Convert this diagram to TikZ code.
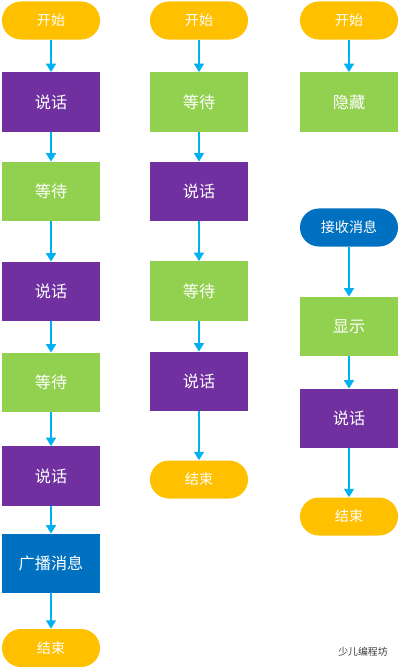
\documentclass[tikz,border=0pt]{standalone}
\usepackage{fontspec}
\usepackage{tikz}
\usetikzlibrary{arrows.meta,positioning}
\newfontfamily\cjk{Noto Sans CJK SC}
\definecolor{flowyellow}{HTML}{FFC000}
\definecolor{flowpurple}{HTML}{7030A0}
\definecolor{flowgreen}{HTML}{92D050}
\definecolor{flowblue}{HTML}{0070C0}
\definecolor{flowcyan}{HTML}{00B0F0}
\definecolor{markgray}{HTML}{3A3A3A}
\tikzset{
  terminal/.style={fill=flowyellow, rounded corners=0.475cm, minimum width=2.45cm, minimum height=0.95cm, inner sep=0pt, text=white, font=\cjk\fontsize{10}{12}\selectfont},
  bluestart/.style={terminal, fill=flowblue},
  saybox/.style={fill=flowpurple, minimum width=2.45cm, minimum height=1.48cm, inner sep=0pt, text=white, font=\cjk\fontsize{11.5}{13}\selectfont},
  waitbox/.style={saybox, fill=flowgreen},
  sendbox/.style={saybox, fill=flowblue},
  flowarrow/.style={flowcyan, line width=1.3pt, -{Triangle[length=6pt, width=7pt]}}
}
\begin{document}
\begin{tikzpicture}[x=0.025cm, y=-0.025cm]
  \useasboundingbox (0,0) rectangle (400,670);
  \node[terminal] (a0) at (51,20.5) {开始};
  \node[saybox] (a1) at (51,102) {说话};
  \node[waitbox] (a2) at (51,191.5) {等待};
  \node[saybox] (a3) at (51,291.5) {说话};
  \node[waitbox] (a4) at (51,382.5) {等待};
  \node[saybox] (a5) at (51,476) {说话};
  \node[sendbox] (a6) at (51,563.5) {广播消息};
  \node[terminal] (a7) at (51,648) {结束};
  \draw[flowarrow] (a0) -- (a1);
  \draw[flowarrow] (a1) -- (a2);
  \draw[flowarrow] (a2) -- (a3);
  \draw[flowarrow] (a3) -- (a4);
  \draw[flowarrow] (a4) -- (a5);
  \draw[flowarrow] (a5) -- (a6);
  \draw[flowarrow] (a6) -- (a7);
  \node[terminal] (b0) at (199,20.5) {开始};
  \node[waitbox] (b1) at (199,102) {等待};
  \node[saybox] (b2) at (199,191.5) {说话};
  \node[waitbox] (b3) at (199,291) {等待};
  \node[saybox] (b4) at (199,381.5) {说话};
  \node[terminal] (b5) at (199,479.5) {结束};
  \draw[flowarrow] (b0) -- (b1);
  \draw[flowarrow] (b1) -- (b2);
  \draw[flowarrow] (b2) -- (b3);
  \draw[flowarrow] (b3) -- (b4);
  \draw[flowarrow] (b4) -- (b5);
  \node[terminal] (c0) at (349,20.5) {开始};
  \node[waitbox] (c1) at (349,102) {隐藏};
  \draw[flowarrow] (c0) -- (c1);
  \node[bluestart] (c2) at (349,227.5) {接收消息};
  \node[waitbox] (c3) at (349,326.5) {显示};
  \node[saybox] (c4) at (349,418.5) {说话};
  \node[terminal] (c5) at (349,516.5) {结束};
  \draw[flowarrow] (c2) -- (c3);
  \draw[flowarrow] (c3) -- (c4);
  \draw[flowarrow] (c4) -- (c5);
  \node[text=markgray, font=\cjk\fontsize{7}{8}\selectfont, inner sep=0pt] (mark) at (363,652) {少儿编程坊};
\end{tikzpicture}
\end{document}
